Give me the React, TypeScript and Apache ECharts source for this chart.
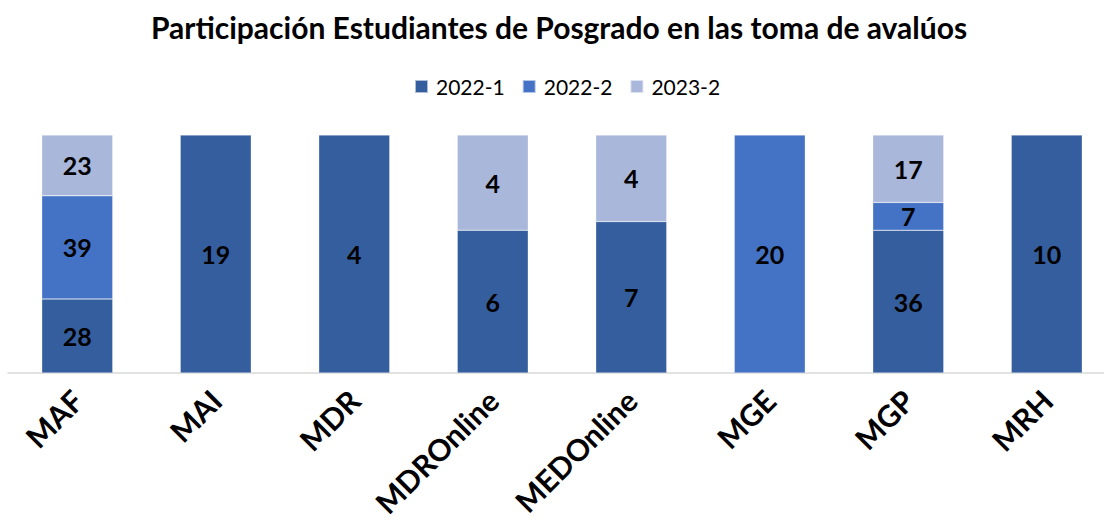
import React, { useEffect, useRef } from "react";
import * as echarts from "echarts";

const categories = ["MAF", "MAI", "MDR", "MDROnline", "MEDOnline", "MGE", "MGP", "MRH"];
const seriesNames = ["2022-1", "2022-2", "2023-2"];
const values2022_1 = [28, 19, 4, 6, 7, 0, 36, 10];
const values2022_2 = [39, 0, 0, 0, 0, 20, 7, 0];
const values2023_2 = [23, 0, 0, 4, 4, 0, 17, 0];
const colors = ["#355E9F", "#4472C4", "#A9B7DB"];

const FONT = "Lato, 'Open Sans', sans-serif";

export default function App() {
  const ref = useRef<HTMLDivElement>(null);
  useEffect(() => {
    if (!ref.current) return;
    const chart = echarts.init(ref.current, undefined, { renderer: "svg" });
    const raw = [values2022_1, values2022_2, values2023_2];
    const totals = categories.map((_, i) => raw.reduce((s, arr) => s + arr[i], 0));
    const series = raw.map((arr, si) => ({
      name: seriesNames[si],
      type: "bar",
      stack: "total",
      barWidth: 71,
      itemStyle: { color: colors[si], borderColor: "rgba(255,255,255,0.6)", borderWidth: 0.5 },
      label: {
        show: true,
        position: "inside",
        color: "#000",
        fontWeight: "bold",
        fontSize: 25,
        fontFamily: FONT,
        formatter: (p: any) => String(arr[p.dataIndex]),
      },
      data: arr.map((v, i) => (v > 0 ? (v / totals[i]) * 100 : null)),
    }));
    chart.setOption({
      animation: false,
      textStyle: { fontFamily: FONT },
      title: {
        text: "Participación Estudiantes de Posgrado en las toma de avalúos",
        left: 554,
        textAlign: "center",
        top: 7,
        textStyle: { fontSize: 30, fontWeight: "bold", color: "#000", fontFamily: FONT },
      },
      legend: {
        top: 71,
        left: 409,
        itemWidth: 13,
        itemHeight: 13,
        itemGap: 17,
        icon: "rect",
        textStyle: { fontSize: 21, color: "#000", fontFamily: FONT, padding: [0, 0, 0, 3] },
        data: seriesNames,
      },
      grid: { left: 8, width: 1108, top: 135, bottom: 150, containLabel: false },
      xAxis: {
        type: "category",
        data: categories,
        axisLine: { lineStyle: { color: "#D9D9D9", width: 1.5 } },
        axisTick: { show: false },
        axisLabel: {
          rotate: 45,
          interval: 0,
          margin: 22,
          color: "#000",
          fontWeight: "bold",
          fontSize: 30,
          fontFamily: FONT,
        },
      },
      yAxis: { type: "value", min: 0, max: 100, show: false, splitLine: { show: false } },
      series,
    });
    return () => chart.dispose();
  }, []);
  return (
    <div
      style={{
        position: "fixed",
        left: 0,
        top: 0,
        width: 1104,
        height: 523,
        overflow: "hidden",
        background: "#fff",
      }}
    >
      <div ref={ref} style={{ width: 1124, height: 523 }} />
    </div>
  );
}
